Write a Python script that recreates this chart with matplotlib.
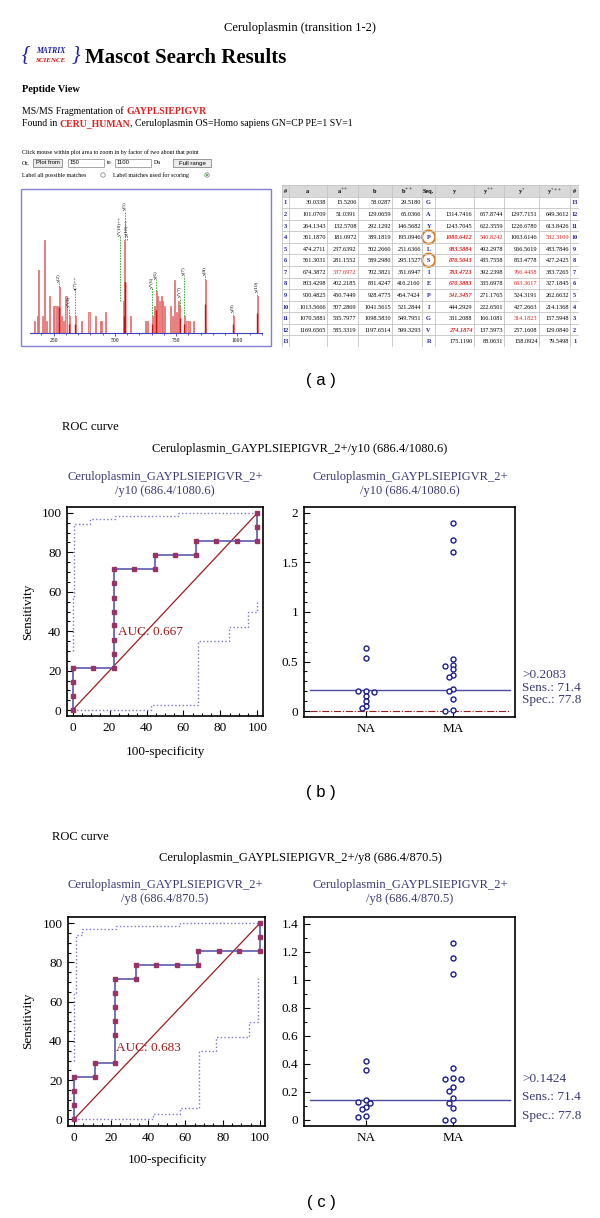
import numpy as np
import matplotlib.pyplot as plt
from matplotlib.patches import Rectangle, Ellipse, Circle
from matplotlib.ticker import MultipleLocator

plt.rcParams['font.family'] = ['Liberation Serif', 'DejaVu Serif']
plt.rcParams['mathtext.fontset'] = 'stix'

W, H = 600, 1218

# ---------------- panel (a): Mascot spectrum ----------------
peak_mz = [174, 185, 188, 204, 215, 222, 232, 249, 256, 266,
           274, 281, 290, 301, 314, 338, 363, 395, 423, 440,
           447, 463, 536, 541, 563, 624, 635, 653, 661, 670,
           675, 683, 690, 696, 702, 729, 737, 743, 751, 761,
           766, 783, 795, 806, 822, 870, 984, 1081]
peak_int = [13, 18, 68, 18, 100, 13, 40, 29, 29, 29,
            50, 18, 13, 40, 18, 18, 13, 23, 18, 13,
            13, 23, 34, 100, 18, 13, 13, 18, 29, 45,
            40, 34, 40, 34, 29, 29, 18, 57, 23, 34,
            29, 18, 13, 13, 13, 57, 18, 40]
ion_labels = ['y(2)', 'y*(3)', 'a(7)++', 'y*(10)++', 'y(10)++', 'y(5)', 'y*(6)',
              'y(6)', 'y*(7)', 'y(7)', 'y(8)', 'y(9)', 'y(10)']
ion_mz = [274, 314, 338, 532, 541, 541, 653, 670, 766, 783, 870, 984, 1081]
label_level = [54, 27, 45, 104, 104, 131, 48, 57, 38, 61, 61, 22, 43]
label_shift = [0, 0, 0, -12, 10, 0, 0, 0, 0, 0, 0, 0, 0]

# ---------------- panel (a): fragment table ----------------
seq = list('GAYPLSIEPIGVR')
a_ion = [30.0338, 101.0709, 264.1343, 361.1870, 474.2711, 561.3031, 674.3872,
         803.4298, 900.4825, 1013.5666, 1070.5881, 1169.6565, None]
a_2 = [15.5206, 51.0391, 132.5708, 181.0972, 237.6392, 281.1552, 337.6972,
       402.2185, 450.7449, 507.2869, 535.7977, 585.3319, None]
b_ion = [58.0287, 129.0659, 292.1292, 389.1819, 502.2660, 589.2980, 702.3821,
         831.4247, 928.4775, 1041.5615, 1098.5830, 1197.6514, None]
b_2 = [29.5180, 65.0366, 146.5682, 195.0946, 251.6366, 295.1527, 351.6947,
       416.2160, 464.7424, 521.2844, 549.7951, 599.3293, None]
y_ion = [None, 1314.7416, 1243.7045, 1080.6412, 983.5884, 870.5043, 783.4723,
         670.3883, 541.3457, 444.2929, 331.2088, 274.1874, 175.1190]
y_2 = [None, 657.8744, 622.3559, 540.8242, 492.2978, 435.7558, 392.2398,
       335.6978, 271.1765, 222.6501, 166.1081, 137.5973, 88.0631]
ys_ion = [None, 1297.7151, 1226.6780, 1063.6146, 966.5619, 853.4778, 766.4458,
          653.3617, 524.3191, 427.2663, 314.1823, 257.1608, 158.0924]
ys_2 = [None, 649.3612, 613.8426, 532.3109, 483.7846, 427.2425, 383.7265,
        327.1845, 262.6632, 214.1368, 157.5948, 129.0840, 79.5498]
strong_hits = [(3, 6), (4, 6), (5, 6), (6, 6), (7, 6), (8, 6), (11, 6)]
plain_hits = [(3, 7), (3, 9), (6, 2), (6, 8), (7, 8), (10, 8)]
circled_rows = [3, 5]

# ---------------- panel (b) ----------------
roc_b_x = [0, 0, 0, 0, 11.1, 22.2, 22.2, 22.2, 22.2, 22.2, 22.2, 22.2, 22.2,
           33.3, 44.4, 44.4, 55.6, 66.7, 66.7, 77.8, 88.9, 100, 100, 100]
roc_b_y = [0, 7.1, 14.3, 21.4, 21.4, 21.4, 28.6, 35.7, 42.9, 50, 57.1, 64.3, 71.4,
           71.4, 71.4, 78.6, 78.6, 78.6, 85.7, 85.7, 85.7, 85.7, 92.9, 100]
up_b_x = [0, 0, 1, 1, 9.4, 9.4, 23, 23, 57, 57, 100]
up_b_y = [30, 58, 58, 94.4, 94.4, 97.1, 97.1, 98.6, 98.6, 100, 100]
lo_b_x = [0, 42.5, 42.5, 68, 68, 84.5, 84.5, 95, 95, 100, 100]
lo_b_y = [0, 0, 2.5, 2.5, 35, 35, 42, 42, 50, 50, 55]
auc_b = 0.667
na_b = [0.633, 0.54, 0.205, 0.20, 0.19, 0.155, 0.10, 0.05, 0.03]
ma_b = [1.896, 1.727, 1.603, 0.525, 0.47, 0.455, 0.42, 0.364, 0.343, 0.219,
        0.199, 0.118, 0.01, 0.003]
cut_b, sens_b, spec_b = 0.2083, 71.4, 77.8

# ---------------- panel (c) ----------------
roc_c_x = [0, 0, 0, 0, 11.1, 11.1, 22.2, 22.2, 22.2, 22.2, 22.2, 22.2,
           33.3, 33.3, 44.4, 55.6, 66.7, 66.7, 77.8, 88.9, 100, 100, 100]
roc_c_y = [0, 7.1, 14.3, 21.4, 21.4, 28.6, 28.6, 42.9, 50, 57.1, 64.3, 71.4,
           71.4, 78.6, 78.6, 78.6, 78.6, 85.7, 85.7, 85.7, 85.7, 92.9, 100]
up_c_x = [0, 0, 1.1, 1.1, 4.5, 4.5, 22.6, 22.6, 57, 57, 100]
up_c_y = [30, 64.6, 64.6, 94, 94, 97.1, 97.1, 98.8, 98.8, 100, 100]
lo_c_x = [0, 42.3, 42.3, 57, 57, 67.4, 67.4, 76.3, 76.3, 94.3, 94.3, 99, 99]
lo_c_y = [0, 0, 2.7, 2.7, 5.6, 5.6, 35, 35, 42.1, 42.1, 49.8, 49.8, 72]
auc_c = 0.683
na_c = [0.421, 0.357, 0.14, 0.13, 0.12, 0.09, 0.075, 0.028, 0.024]
ma_c = [1.262, 1.157, 1.04, 0.369, 0.30, 0.295, 0.29, 0.238, 0.21, 0.155,
        0.124, 0.084, 0.003, 0.0]
cut_c, sens_c, spec_c = 0.1424, 71.4, 77.8

NAVY = '#3a3a72'
ROC_LINE = '#5a5ab0'
MARK = '#993366'
BAND = '#7878cc'
DIAG = '#9b1c1c'
RED = '#dd2222'
BLUE = '#1f1fa0'


def px_rect(x0, y0, x1, y1):
    return [x0 / W, 1 - y1 / H, (x1 - x0) / W, (y1 - y0) / H]


fig = plt.figure(figsize=(W / 100, H / 100), dpi=100)
ax0 = fig.add_axes([0, 0, 1, 1])
ax0.set_xlim(0, W)
ax0.set_ylim(H, 0)
ax0.axis('off')
renderer = fig.canvas.get_renderer()


def chain(x, y, parts, size):
    for s, kw in parts:
        t = ax0.text(x, y, s, fontsize=size, va='center', ha='left', **kw)
        x += t.get_window_extent(renderer=renderer).width


# ---- header of (a)
ax0.text(300, 28, 'Ceruloplasmin (transition 1-2)', fontsize=9, ha='center', va='center')
ax0.text(26, 55, '{', fontsize=15, style='italic', color=BLUE, ha='center', va='center')
ax0.text(76, 55, '}', fontsize=15, style='italic', color=BLUE, ha='center', va='center')
ax0.text(51, 51, 'MATRIX', fontsize=5.5, style='italic', weight='bold', color=BLUE,
         ha='center', va='center')
ax0.text(51, 60, 'SCIENCE', fontsize=5, style='italic', weight='bold', color='#cc1111',
         ha='center', va='center')
ax0.text(85, 58, 'Mascot Search Results', fontsize=15, weight='bold', va='center')
ax0.text(22, 89, 'Peptide View', fontsize=7.5, weight='bold', va='center')
chain(22, 111, [('MS/MS Fragmentation of ', {}),
                ('GAYPLSIEPIGVR', {'color': RED, 'weight': 'bold'})], 7)
chain(22, 124, [('Found in ', {}), ('CERU_HUMAN', {'color': RED, 'weight': 'bold'}),
                (', Ceruloplasmin OS=Homo sapiens GN=CP PE=1 SV=1', {})], 7)
ax0.text(22, 152, 'Click mouse within plot area to zoom in by factor of two about that point',
         fontsize=4.3, va='center')
ax0.text(22, 163, 'Or,', fontsize=4.3, va='center')
for x0, x1, s in [(33, 62, 'Plot from'), (173, 211, 'Full range')]:
    ax0.add_patch(Rectangle((x0, 159), x1 - x0, 8, facecolor='#ececec', edgecolor='#888888', lw=0.6))
    ax0.text((x0 + x1) / 2, 163, s, fontsize=4.3, ha='center', va='center', family='Liberation Sans')
for x0, x1, s in [(68, 104, '150'), (115, 151, '1100')]:
    ax0.add_patch(Rectangle((x0, 159), x1 - x0, 8, facecolor='white', edgecolor='#999999', lw=0.6))
    ax0.text(x0 + 2, 163, s, fontsize=4.3, va='center', family='Liberation Sans')
ax0.text(107, 163, 'to', fontsize=4.3, va='center')
ax0.text(154, 163, 'Da', fontsize=4.3, va='center')
ax0.text(22, 175, 'Label all possible matches', fontsize=4.3, va='center')
ax0.text(113, 175, 'Label matches used for scoring', fontsize=4.3, va='center')
ax0.add_patch(Circle((103, 175), 2.2, facecolor='white', edgecolor='#777777', lw=0.5))
ax0.add_patch(Circle((207, 175), 2.2, facecolor='white', edgecolor='#777777', lw=0.5))
ax0.add_patch(Circle((207, 175), 1.0, facecolor='#33aa33', edgecolor='none'))

# spectrum frame + spectrum
ax0.add_patch(Rectangle((20.5, 188.5), 250, 157, facecolor='none', edgecolor='#8080d0', lw=1))
axs = fig.add_axes(px_rect(30, 190, 262, 333))
axs.set_xlim(154, 1101)
axs.set_ylim(0, 154)
axs.bar(peak_mz, peak_int, width=4.5, facecolor='#f3a6a6', edgecolor='#e06060', lw=0.5)
for mz, lab, lev, sh in zip(ion_mz, ion_labels, label_level, label_shift):
    k = int(np.argmin(np.abs(np.array(peak_mz) - mz)))
    axs.vlines(peak_mz[k], 0, peak_int[k] * 0.55, color='#cc1010', lw=1.0)
    axs.vlines(mz + sh, peak_int[k], lev, color='#33aa33', lw=0.7, linestyles=(0, (1.5, 1.2)))
    axs.text(mz + sh, lev + 1, lab, rotation=90, ha='center', va='bottom', fontsize=3.8)
for s in ['top', 'right', 'left']:
    axs.spines[s].set_visible(False)
axs.spines['bottom'].set_color('#4040c0')
axs.spines['bottom'].set_linewidth(0.8)
axs.set_yticks([])
axs.set_xticks([250, 500, 750, 1000])
axs.xaxis.set_minor_locator(MultipleLocator(50))
axs.tick_params(axis='x', which='both', colors='#4040c0', labelcolor='black',
                labelsize=4, pad=1, length=2.5, width=0.6)
axs.tick_params(axis='x', which='minor', length=1.5)
axs.patch.set_alpha(0)

# fragment table
axt = fig.add_axes(px_rect(282, 185, 579, 347))
edges = [0, 6.7, 45, 75.7, 110, 140, 153.3, 191.7, 222.3, 256.7, 288.3, 297]
axt.set_xlim(0, 297)
axt.set_ylim(14, 0)
axt.axis('off')
axt.add_patch(Rectangle((0, 0), 297, 1, facecolor='#d9d9d9', edgecolor='none'))
for e in edges:
    axt.plot([e, e], [0, 14], color='#c4c4c4', lw=0.6)
for r in range(15):
    axt.plot([0, 297], [r, r], color='#c4c4c4', lw=0.6)
heads = ['#', 'a', r'a$^{++}$', 'b', r'b$^{++}$', 'Seq.', 'y', r'y$^{++}$', r'y$^{*}$',
         r'y$^{*++}$', '#']
for j, h in enumerate(heads):
    axt.text((edges[j] + edges[j + 1]) / 2, 0.55, h, fontsize=4.5, weight='bold',
             ha='center', va='center')
num_cols = [a_ion, a_2, b_ion, b_2, None, y_ion, y_2, ys_ion, ys_2]
for i in range(13):
    yy = i + 1.55
    axt.text((edges[0] + edges[1]) / 2, yy, str(i + 1), fontsize=4.5, weight='bold',
             color=BLUE, ha='center', va='center')
    axt.text((edges[10] + edges[11]) / 2, yy, str(13 - i), fontsize=4.5, weight='bold',
             color=BLUE, ha='center', va='center')
    axt.text((edges[5] + edges[6]) / 2, yy, seq[i], fontsize=4.5, weight='bold',
             color=BLUE, ha='center', va='center')
    for j, col in enumerate(num_cols):
        if col is None or col[i] is None:
            continue
        cj = j + 1
        kw = {}
        if (i, cj) in strong_hits:
            kw = {'color': RED, 'weight': 'bold', 'style': 'italic'}
        elif (i, cj) in plain_hits:
            kw = {'color': RED}
        axt.text(edges[cj + 1] - 1.2, yy, '%.4f' % col[i], fontsize=4.5,
                 ha='right', va='center', **kw)
for i in circled_rows:
    axt.add_patch(Ellipse(((edges[5] + edges[6]) / 2, i + 1.5), 13, 1.15,
                          facecolor='none', edgecolor='#e07a1f', lw=1.4))


# ---------------- panels (b) and (c) ----------------
def style_axes(ax):
    for s in ax.spines.values():
        s.set_linewidth(1.2)
    ax.tick_params(which='both', direction='in', labelsize=9.5, width=0.8, pad=4)
    ax.tick_params(which='major', length=4)
    ax.tick_params(which='minor', length=2)


def roc_panel(rect, xlim, ylim, rx, ry, ux, uy, lx, ly, auc, auc_xy):
    ax = fig.add_axes(px_rect(*rect))
    ax.plot(ux, uy, color=BAND, ls=':', lw=1)
    ax.plot(lx, ly, color=BAND, ls=':', lw=1)
    ax.plot([0, 100], [0, 100], color=DIAG, lw=0.9)
    ax.plot(rx, ry, color=ROC_LINE, lw=1.2, marker='s', ms=3.2, mfc=MARK, mec=MARK,
            zorder=3, clip_on=False)
    ax.text(auc_xy[0], auc_xy[1], 'AUC: %.3f' % auc, color=DIAG, fontsize=9.5, va='center')
    ax.set_xlim(*xlim)
    ax.set_ylim(*ylim)
    ax.set_xticks(range(0, 101, 20))
    ax.set_yticks(range(0, 101, 20))
    ax.xaxis.set_minor_locator(MultipleLocator(5))
    ax.yaxis.set_minor_locator(MultipleLocator(5))
    style_axes(ax)
    return ax


def swarm(values, center, sx, sy, d=4.6, step=4.2):
    placed, xs = [], []
    for v in values:
        for k in [0, -1, 1, -2, 2, -3, 3]:
            off = k * step
            if all((off - po) ** 2 + ((v - pv) * sy) ** 2 >= d ** 2 for po, pv in placed):
                break
        placed.append((off, v))
        xs.append(center + off / sx)
    return xs


def dot_panel(rect, ylim, major, minor, na, ma, cut, zero_line):
    ax = fig.add_axes(px_rect(*rect))
    xlim = (0.29, 2.71)
    ax.set_xlim(*xlim)
    ax.set_ylim(*ylim)
    sx = (rect[2] - rect[0]) / (xlim[1] - xlim[0])
    sy = (rect[3] - rect[1]) / (ylim[1] - ylim[0])
    ax.axhline(cut, xmin=0.03, xmax=0.975, color='#4b4b9b', lw=1)
    if zero_line:
        ax.axhline(0, xmin=0.03, xmax=0.975, color=DIAG, lw=0.8, ls='-.')
    for c, vals in [(1, na), (2, ma)]:
        ax.plot(swarm(vals, c, sx, sy), vals, 'o', ms=3.6, mfc='white', mec='#1c1c8c',
                mew=1, ls='none', zorder=3)
    ax.set_xticks([1, 2])
    ax.set_xticklabels(['NA', 'MA'])
    ax.yaxis.set_major_locator(MultipleLocator(major))
    ax.yaxis.set_minor_locator(MultipleLocator(minor))
    ax.yaxis.set_major_formatter(plt.FuncFormatter(lambda v, p: ('%g' % round(v, 2))))
    style_axes(ax)
    ax.tick_params(axis='x', which='minor', length=0)
    return ax


# (b)
ax0.text(62, 427, 'ROC curve', fontsize=9, va='center')
ax0.text(300, 449, 'Ceruloplasmin_GAYPLSIEPIGVR_2+/y10 (686.4/1080.6)', fontsize=9,
         ha='center', va='center')
for xc in [165, 410]:
    ax0.text(xc, 484, 'Ceruloplasmin_GAYPLSIEPIGVR_2+\n/y10 (686.4/1080.6)', fontsize=9,
             color=NAVY, ha='center', va='center', linespacing=1.25)
roc_panel((67, 507, 263, 716), (-3, 103), (-3, 103), roc_b_x, roc_b_y, up_b_x, up_b_y,
          lo_b_x, lo_b_y, auc_b, (24.4, 39.6))
ax0.text(165, 752, '100-specificity', fontsize=9.5, ha='center', va='center')
ax0.text(28, 612, 'Sensitivity', fontsize=9.5, ha='center', va='center', rotation=90)
dot_panel((304, 507, 515, 717), (-0.06, 2.06), 0.5, 0.1, na_b, ma_b, cut_b, True)
for k, s in enumerate(['>%.4f' % cut_b, 'Sens.: %.1f' % sens_b, 'Spec.: %.1f' % spec_b]):
    ax0.text(522, 675 + 12.7 * k, s, fontsize=9.5, color=NAVY, va='center')

# (c)
ax0.text(52, 837, 'ROC curve', fontsize=9, va='center')
ax0.text(300, 858, 'Ceruloplasmin_GAYPLSIEPIGVR_2+/y8 (686.4/870.5)', fontsize=9,
         ha='center', va='center')
for xc in [165, 410]:
    ax0.text(xc, 892, 'Ceruloplasmin_GAYPLSIEPIGVR_2+\n/y8 (686.4/870.5)', fontsize=9,
             color=NAVY, ha='center', va='center', linespacing=1.25)
roc_panel((68, 917, 265, 1126), (-3.2, 102.8), (-3.4, 103.2), roc_c_x, roc_c_y, up_c_x, up_c_y,
          lo_c_x, lo_c_y, auc_c, (22.6, 36.4))
ax0.text(167, 1160, '100-specificity', fontsize=9.5, ha='center', va='center')
ax0.text(28, 1021, 'Sensitivity', fontsize=9.5, ha='center', va='center', rotation=90)
dot_panel((304, 917, 515, 1126), (-0.043, 1.45), 0.2, 0.1, na_c, ma_c, cut_c, False)
for k, s in enumerate(['>%.4f' % cut_c, 'Sens.: %.1f' % sens_c, 'Spec.: %.1f' % spec_c]):
    ax0.text(522, 1079 + 18.5 * k, s, fontsize=9.5, color=NAVY, va='center')

# panel captions
for y, s in [(381, '( a )'), (793, '( b )'), (1202, '( c )')]:
    ax0.text(321, y, s, fontsize=12, ha='center', va='center', family='Liberation Sans')

fig.savefig('out.png', dpi=100)
